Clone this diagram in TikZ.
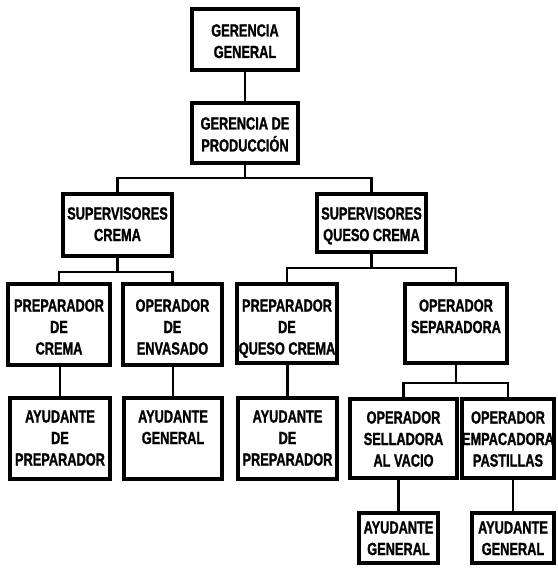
\documentclass[tikz,border=0pt]{standalone}
\usepackage{fontspec}
\newfontfamily\chartfont[FakeStretch=0.73,FakeBold=1.2]{Liberation Sans Bold}
% \orgbox{name}{x1}{y1}{x2}{y2}{baseline offset}{lines}
\newcommand\orgbox[7]{%
  \node[box, minimum width={(#4-#2)*1pt}, minimum height={(#5-#3)*1pt}]
    (#1) at ({(#2+#4)/2},{(#3+#5)/2}) {};
  \node[lbl] (#1-t) at ([yshift=-#6pt]#1.north)
    {\begin{tabular}[t]{@{}c@{}}#7\end{tabular}};
}
\begin{document}
\begin{tikzpicture}[x=1pt,y=-1pt,
  box/.style={draw, line width=3.2pt, inner sep=0pt, outer sep=0pt},
  lbl/.style={anchor=base, inner sep=0pt,
    font=\chartfont\fontsize{17.5}{21.5}\selectfont},
  link/.style={line width=2.2pt}]
\useasboundingbox (0,0) rectangle (557,569);
\fill[white] (0,0) rectangle (557,569);

% top management
\orgbox{gg}{192}{9}{298}{70}{27.5}{GERENCIA\\GENERAL}
\orgbox{gp}{192}{103}{298}{163}{26.5}{GERENCIA DE\\PRODUCCIÓN}

% supervisors
\orgbox{sc}{63}{194}{172}{256}{25.5}{SUPERVISORES\\CREMA}
\orgbox{sq}{317}{194}{426}{252}{25.5}{SUPERVISORES\\QUESO CREMA}

% operators and preparers
\orgbox{pc}{8}{284}{110}{365}{27.5}{PREPARADOR\\DE\\CREMA}
\orgbox{oe}{123}{284}{222}{365}{27.5}{OPERADOR\\DE\\ENVASADO}
\orgbox{pq}{237}{284}{337}{363}{27.5}{PREPARADOR\\DE\\QUESO CREMA}
\orgbox{os}{405}{284}{507}{363}{27.5}{OPERADOR\\SEPARADORA}

% assistants and machine operators
\orgbox{a1}{10}{398}{110}{479}{24.5}{AYUDANTE\\DE\\PREPARADOR}
\orgbox{a2}{124}{398}{222}{479}{24.5}{AYUDANTE\\GENERAL}
\orgbox{a3}{238}{398}{337}{479}{24.5}{AYUDANTE\\DE\\PREPARADOR}
\orgbox{ol}{350}{399}{457}{478}{24.5}{OPERADOR\\SELLADORA\\AL VACIO}
\orgbox{oem}{462}{399}{554}{478}{24.5}{OPERADOR\\EMPACADORA\\PASTILLAS}
\orgbox{a4}{359}{513}{438}{563}{20.5}{AYUDANTE\\GENERAL}
\orgbox{a5}{472}{513}{554}{563}{20.5}{AYUDANTE\\GENERAL}

% bus levels
\coordinate (b1) at (0,178);
\coordinate (b2) at (0,272);
\coordinate (b3) at (0,268);
\coordinate (b4) at (0,383);

% connectors
\draw[link] (gg.south) -- (gp.north);
\draw[link] (gp.south) -- (gp.south |- b1) -| (sc.north);
\draw[link] (gp.south |- b1) -| (sq.north);
\draw[link] (sc.south) -- (sc.south |- b2) -| (pc.north);
\draw[link] (sc.south |- b2) -| (oe.north);
\draw[link] (sq.south) -- (sq.south |- b3) -| (pq.north);
\draw[link] (sq.south |- b3) -| (os.north);
\draw[link] (a1.north |- pc.south) -- (a1.north);
\draw[link] (a2.north |- oe.south) -- (a2.north);
\draw[link] (a3.north |- pq.south) -- (a3.north);
\draw[link] (os.south) -- (os.south |- b4) -| (ol.north);
\draw[link] (os.south |- b4) -| (oem.north);
\draw[link] (a4.north |- ol.south) -- (a4.north);
\draw[link] (a5.north |- oem.south) -- (a5.north);
\end{tikzpicture}
\end{document}
